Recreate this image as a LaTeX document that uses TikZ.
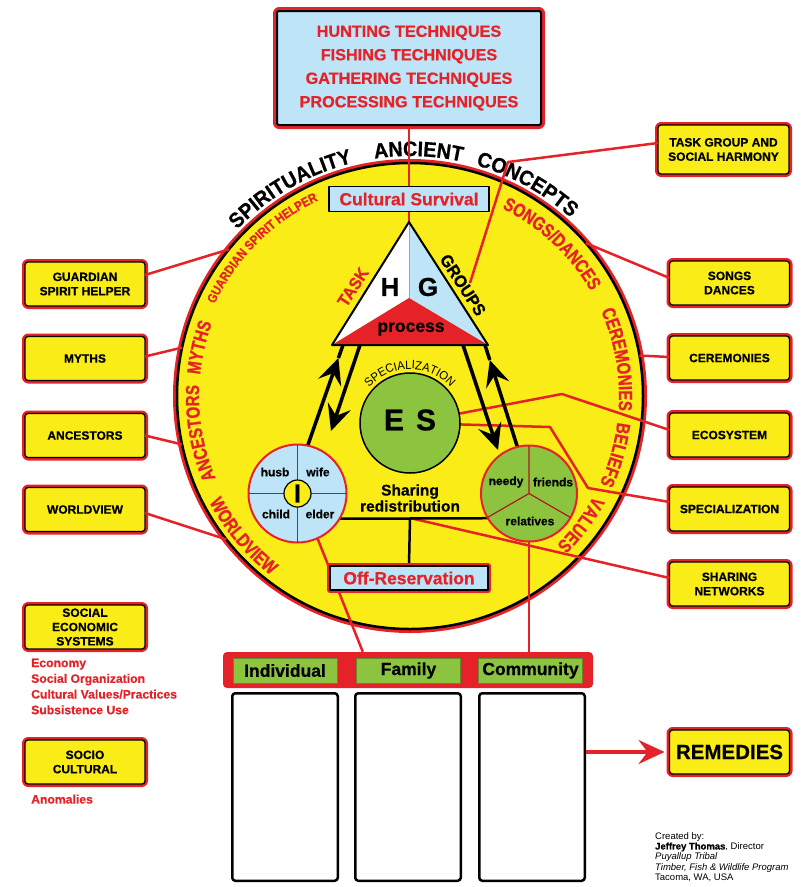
\documentclass[tikz,border=0pt]{standalone}
\usepackage{fontspec}
\setmainfont{Liberation Sans}[BoldFeatures={FakeBold=0.6}]
\newfontfamily\cndA{Liberation Sans}[FakeStretch=0.8, BoldFeatures={FakeBold=0.8}]
\newfontfamily\cndB{Liberation Sans}[FakeStretch=0.87, BoldFeatures={FakeBold=0.6}]
\newfontfamily\cndC{Liberation Sans}[FakeStretch=0.94, BoldFeatures={FakeBold=0.8}]
\newfontfamily\cndD{Liberation Sans}[FakeStretch=0.94]
\usetikzlibrary{arrows.meta,decorations.text,calc}
\definecolor{myyellow}{HTML}{F9EC17}
\definecolor{myred}{HTML}{E42228}
\definecolor{myblue}{HTML}{BDE4F7}
\definecolor{mygreen}{HTML}{8CC43F}
\newcommand\txOut{\cndC\bfseries\fontsize{21}{21}\selectfont\color{black}}
\newcommand\txBig{\cndA\bfseries\fontsize{19}{19}\selectfont\color{myred}}
\newcommand\txSm{\cndB\bfseries\fontsize{13}{13}\selectfont\color{myred}}
\newcommand\txSpec{\cndD\fontsize{12}{12}\selectfont\color{black}}
\newcommand\ArcTxt[5]{%
  \path[decorate,decoration={text along path,text align=center,text={#5}}]
    ([shift={(#2:#4)}]#1) arc[start angle=#2,end angle=#3,radius=#4];}
\tikzset{
  ybox/.style={draw=black, line width=1.3pt, fill=myyellow, rounded corners=3pt,
    preaction={draw=myred, line width=6pt}, minimum width=120pt, minimum height=44pt,
    inner sep=0pt, outer sep=0pt, align=center, font=\bfseries\fontsize{12}{14.3}\selectfont},
  redl/.style={myred, line width=2.5pt},
  blk/.style={black, line width=3.5pt},
  blkline/.style={black, line width=2.5pt},
  blkarr/.style={blk, -{Stealth[length=26pt,width=24pt,inset=10pt]}},
  lbl/.style={font=\bfseries\fontsize{12}{12}\selectfont, inner sep=0pt},
  gbox/.style={fill=mygreen, draw=mygreen!70!black, line width=0.6pt, minimum width=104pt,
    minimum height=25pt, inner sep=0pt, font=\bfseries\fontsize{17.5}{18}\selectfont},
  wbox/.style={draw=black, line width=2.5pt, fill=white, rounded corners=3pt,
    minimum width=105.5pt, minimum height=187.5pt, inner sep=0pt},
}
\begin{document}
\begin{tikzpicture}[x=1pt,y=1pt,line join=round]
\useasboundingbox (0,0) rectangle (808,-887);
\fill[white] (0,0) rectangle (808,-887);

% main circle
\coordinate (O) at (410,-396);
\node[circle, minimum size=466pt, inner sep=0pt, outer sep=0pt, fill=myyellow, draw=black,
  line width=2.5pt, preaction={draw=myred, line width=8pt}] (C) at (O) {};

% texts around circle
\ArcTxt{O}{160}{80}{240}{|\txOut|SPIRITUALITY}
\ArcTxt{O}{118}{58}{240}{|\txOut|ANCIENT}
\ArcTxt{O}{101}{21}{240}{|\txOut|CONCEPTS}
\ArcTxt{O}{175}{95}{216}{|\txSm|GUARDIAN SPIRIT HELPER}
\ArcTxt{O}{77}{17}{209}{|\txBig|SONGS/DANCES}
\ArcTxt{O}{40}{-20}{209}{|\txBig|CEREMONIES}
\ArcTxt{O}{14}{-46}{209}{|\txBig|BELIEFS}
\ArcTxt{O}{-7}{-67}{209}{|\txBig|VALUES}
\ArcTxt{O}{197}{137}{211}{|\txBig|MYTHS}
\ArcTxt{O}{220}{160}{211}{|\txBig|ANCESTORS}
\ArcTxt{O}{190}{250}{227}{|\txBig|WORLDVIEW}

% boxes
\node[draw=black, line width=2pt, fill=myblue, preaction={draw=myred, line width=8pt},
  rounded corners=2pt, minimum width=264pt, minimum height=114pt, inner sep=0pt, align=center,
  text=myred, font=\bfseries\fontsize{16.2}{23.5}\selectfont] (top) at (409,-68)
  {HUNTING TECHNIQUES\\FISHING TECHNIQUES\\GATHERING TECHNIQUES\\PROCESSING TECHNIQUES};

\node[ybox, minimum width=131pt, minimum height=49pt] (tg) at (723.5,-149.5) {TASK GROUP AND\\SOCIAL HARMONY};
\node[ybox] (gsh) at (85,-284) {GUARDIAN\\SPIRIT HELPER};
\node[ybox] (myth) at (85,-358.5) {MYTHS};
\node[ybox] (anc) at (85,-435.5) {ANCESTORS};
\node[ybox] (wv) at (85,-509.5) {WORLDVIEW};
\node[ybox] (ses) at (85,-627) {SOCIAL\\ECONOMIC\\SYSTEMS};
\node[ybox] (sc) at (85,-762) {SOCIO\\CULTURAL};
\node[ybox] (songs) at (729.5,-283) {SONGS\\DANCES};
\node[ybox] (cer) at (729.5,-358) {CEREMONIES};
\node[ybox] (eco) at (729.5,-435) {ECOSYSTEM};
\node[ybox] (spec) at (729.5,-509) {SPECIALIZATION};
\node[ybox] (shar) at (729.5,-584) {SHARING\\NETWORKS};
\node[ybox, font=\bfseries\fontsize{20.5}{22}\selectfont] (rem) at (729.5,-752) {REMEDIES};

% key points
\coordinate (A) at (409,-222);
\coordinate (TL) at (332,-345);
\coordinate (TR) at (488,-345);
\coordinate (TM) at (409,-298);
\coordinate (ESc) at (410,-423);
\coordinate (jn) at (410,-518);
\coordinate (tgk) at (508,-162);
\coordinate (gend) at (470,-283);
\coordinate (ek) at (562,-394);
\coordinate (sk1) at (550,-427);
\coordinate (sk2) at (588,-488);

% red connectors
\draw[redl] (top.south) -- (A);
\draw[redl] ([yshift=6.5pt]tg.west) -- (tgk) -- (gend);
\draw[redl] ([yshift=9pt]gsh.east) -- (C.141);
\draw[redl] ([yshift=2pt]myth.east) -- (C.168);
\draw[redl] (anc.east) -- (C.192);
\draw[redl] ([yshift=-3.5pt]wv.east) -- (C.218);
\draw[redl] (C.41) -- ([yshift=5pt]songs.west);
\draw[redl] (C.10) -- ([yshift=1pt]cer.west);
\draw[redl] (ESc) -- (ek) -- ([yshift=5pt]eco.west);
\draw[redl] (ESc) -- (sk1) -- (sk2) -- ([yshift=7pt]spec.west);
\draw[redl] (jn) -- ([yshift=6pt]shar.west);

% lower elements
\node[fill=myred, rounded corners=4pt, minimum width=370pt, minimum height=36pt, inner sep=0pt] (bar) at (408,-670) {};
\node[gbox] (gi) at (285,-670.5) {Individual};
\node[gbox] (gf) at (408.5,-670.5) {Family};
\node[gbox] (gc) at (530.5,-670.5) {Community};
\node[wbox] (wi) at (285,-787) {};
\node[wbox] (wf) at (408,-787) {};
\node[wbox] (wc) at (532,-787) {};
\draw[myred, line width=3.5pt, -{Stealth[length=26pt,width=24pt,inset=9pt]}] (wc.east |- rem.west) -- ([xshift=-5pt]rem.west);

% inner circles
\node[circle, minimum size=98pt, inner sep=0pt, outer sep=0pt] (ic) at (297.5,-493.5) {};
\node[circle, minimum size=96pt, inner sep=0pt, outer sep=0pt] (cc) at (529,-493.5) {};
\draw[redl] (ic.-66) -- ([xshift=140pt]bar.north west);
\draw[redl] (cc.south) -- (cc.south |- bar.north);
\draw[blkline] (ic.-31) -- (cc.211);
\draw[blkline] (jn) -- (409,-565);

% triangle
\fill[white] (A) -- (TL) -- (TM) -- cycle;
\fill[myblue] (A) -- (TM) -- (TR) -- cycle;
\fill[myred] (TL) -- (TR) -- (TM) -- cycle;
\draw[gray!70, line width=1pt] (A) -- (TM);
\draw[black, line width=2pt] (A) -- (TL) -- (TR) -- cycle;
\node[font=\bfseries\fontsize{26}{26}\selectfont] (hh) at (390,-287) {H};
\node[font=\bfseries\fontsize{26}{26}\selectfont] (gg) at (428,-287) {G};
\node[font=\bfseries\fontsize{17.5}{18}\selectfont] (proc) at (411,-329) {process};
\node[rotate=57, text=myred, font=\cndC\bfseries\fontsize{17}{17}\selectfont] (task) at (353,-287) {TASK};
\node[rotate=-57, font=\cndC\bfseries\fontsize{17}{17}\selectfont] (grp) at (463,-285) {GROUPS};

\node[draw=black, line width=1.5pt, fill=myblue, minimum width=160pt, minimum height=25pt, inner sep=0pt,
  font=\bfseries\fontsize{17.5}{18}\selectfont, text=myred] (cs) at (409,-199) {Cultural Survival};

% arrows
\coordinate (tLU) at (338.4,-358);
\coordinate (bLU) at (343,-345);
\coordinate (bLD) at (360,-345);
\coordinate (tLD) at (331,-431);
\coordinate (bRD) at (463,-345);
\coordinate (tRD) at (498,-450);
\coordinate (tRU) at (489.8,-360);
\coordinate (bRU) at (485,-345);
\draw[blkarr] (ic.78) -- (tLU);
\draw[blk] (tLU) -- (bLU);
\draw[blkarr] (bLD) -- (tLD);
\draw[blkarr] (bRD) -- (tRD);
\draw[blkarr] (cc.104) -- (tRU);
\draw[blk] (tRU) -- (bRU);

% ES circle
\node[circle, minimum size=100pt, inner sep=0pt, fill=mygreen, draw=black, line width=1.5pt] (es) at (ESc) {};
\node[font=\bfseries\fontsize{30}{30}\selectfont] (estxt) at (410,-420) {E\hspace{12pt}S};
\ArcTxt{ESc}{150}{30}{54}{|\txSpec|SPECIALIZATION}

% individual circle
\node[circle, minimum size=98pt, inner sep=0pt, fill=myblue, draw=myred, line width=2pt] (icd) at (ic) {};
\draw[myred!80!black, line width=1.2pt] (ic.west) -- (ic.east) (ic.north) -- (ic.south);
\node[circle, minimum size=27pt, inner sep=0pt, fill=myyellow, draw=black, line width=1.2pt] (ii) at (ic) {};
\node[font=\bfseries\fontsize{26}{26}\selectfont, inner sep=0pt] (itxt) at (ic) {I};
\node[lbl] (husb) at (275,-472) {husb};
\node[lbl] (wife) at (318,-472) {wife};
\node[lbl] (child) at (276,-514) {child};
\node[lbl] (elder) at (320,-514) {elder};

% community circle
\node[circle, minimum size=96pt, inner sep=0pt, fill=mygreen, draw=myred, line width=2pt] (ccd) at (cc) {};
\draw[myred!75!black, line width=1.2pt] (cc.center) -- (cc.90) (cc.center) -- (cc.210) (cc.center) -- (cc.330);
\node[lbl] (needy) at (506,-482) {needy};
\node[lbl] (friends) at (553,-482) {friends};
\node[lbl] (rel) at (530,-521) {relatives};

\node[align=center, font=\bfseries\fontsize{15.5}{16}\selectfont] (shtxt) at (410,-498) {Sharing\\redistribution};

\node[draw=black, line width=1.3pt, fill=myblue, preaction={draw=myred, line width=6pt},
  minimum width=158pt, minimum height=24pt, inner sep=0pt, text=myred,
  font=\bfseries\fontsize{17.5}{18}\selectfont] (off) at (409,-578) {Off-Reservation};

% side texts
\node[anchor=north west, align=left, inner sep=0pt, text=myred, font=\bfseries\fontsize{12.2}{15.7}\selectfont] (sestxt) at (31,-658.5)
  {Economy\\Social Organization\\Cultural Values/Practices\\Subsistence Use};
\node[anchor=north west, inner sep=0pt, text=myred, font=\bfseries\fontsize{12.2}{15.7}\selectfont] (anom) at (31,-794.5) {Anomalies};
\node[anchor=north west, align=left, inner sep=0pt, font=\fontsize{9.5}{10.4}\selectfont] (cred) at (655,-832)
  {Created by:\\\textbf{Jeffrey Thomas}, Director\\\textit{Puyallup Tribal}\\\textit{Timber, Fish \& Wildlife Program}\\Tacoma, WA, USA};
\end{tikzpicture}
\end{document}
